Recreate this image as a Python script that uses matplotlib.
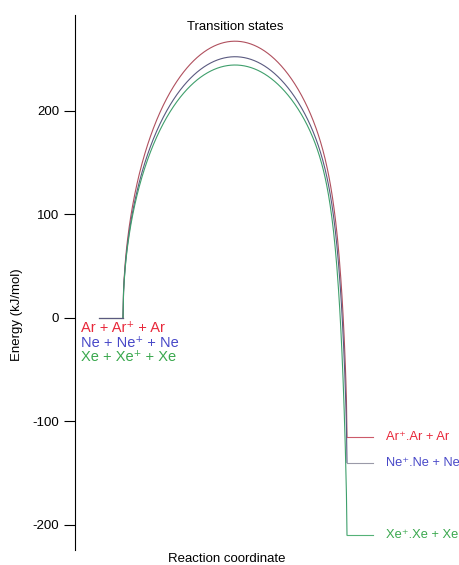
import numpy as np
import matplotlib.pyplot as plt

plt.rcParams['font.family'] = ['Liberation Sans', 'DejaVu Sans']
plt.rcParams['axes.unicode_minus'] = False

# energies in kJ/mol
systems = ["Ar", "Ne", "Xe"]
ts_energy = [267, 252, 244]
product_energy = [-115, -140, -210]
reactant_labels = ["Ar + Ar\u207a + Ar", "Ne + Ne\u207a + Ne", "Xe + Xe\u207a + Xe"]
product_labels = ["Ar\u207a.Ar + Ar", "Ne\u207a.Ne + Ne", "Xe\u207a.Xe + Xe"]
curve_colors = ["#b0505e", "#5a5a80", "#3f9f6c"]
level_colors = ["#cc5a6a", "#9a9aa8", "#55b277"]
text_colors = ["#e8283a", "#4848c8", "#3aa84e"]

fig = plt.figure(figsize=(4.6, 5.65), dpi=100)
ax = fig.add_axes([75 / 460, 15 / 565, 385 / 460, 535 / 565])

t = np.linspace(0, 1, 400)
hump = np.sqrt(np.clip(1 - (2 * t - 1) ** 2, 0, None))
for i in range(len(systems)):
    ep = product_energy[i]
    ts = ts_energy[i]
    # symmetric arc, falling to the product level only at the very end
    base = ep * t ** 30
    lo, hi = 0.0, 3.0 * ts
    for _ in range(60):
        mid = (lo + hi) / 2
        if (base + mid * hump).max() < ts:
            lo = mid
        else:
            hi = mid
    y = base + lo * hump
    # reactant level, the grey-blue one ends up on top like the original
    ax.plot([-0.107, 0], [0, 0], color=curve_colors[i], lw=0.8,
            zorder=3 if i == 1 else 2)
    ax.plot(t, y, color=curve_colors[i], lw=0.8)
    ax.plot([1, 1.116], [ep, ep], color=level_colors[i], lw=0.8)
    ax.text(1.172, ep, product_labels[i], color=text_colors[i], fontsize=9.3,
            va='center', ha='left')

for i, lab in enumerate(reactant_labels):
    ax.text(-0.1875, -9.8 - 14.3 * i, lab, color=text_colors[i], fontsize=10.5,
            va='center', ha='left')

ax.set_xlim(-0.2143, 1.5045)
ax.set_ylim(-224.4, 292.3)
ax.set_yticks([-200, -100, 0, 100, 200])
ax.tick_params(axis='y', labelsize=9.5, length=8, width=0.8)
for s in ['top', 'right', 'bottom']:
    ax.spines[s].set_visible(False)
ax.spines['left'].set_linewidth(0.8)
ax.set_xticks([])

fig.text(235 / 460, 1 - 27 / 565, "Transition states", ha='center', va='center', fontsize=9.5)
fig.text(227 / 460, 1 - 559 / 565, "Reaction coordinate", ha='center', va='center', fontsize=9.5)
fig.text(17 / 460, 1 - 315 / 565, "Energy (kJ/mol)", ha='center', va='center',
         rotation=90, fontsize=9.5)

fig.savefig('out.png', dpi=100)
